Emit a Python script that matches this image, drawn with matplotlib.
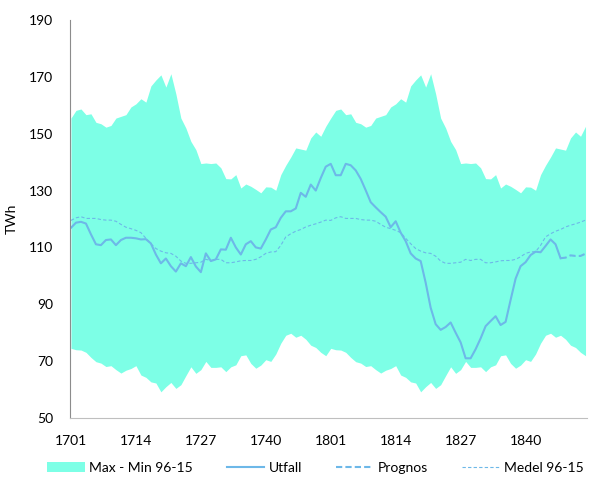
import matplotlib
matplotlib.use('Agg')
import matplotlib.pyplot as plt
import numpy as np

plt.rcParams['font.family'] = ['Lato', 'DejaVu Sans']

# weeks 1701-1752 and 1801-1852
weeks = ['%d%02d' % (y, w) for y in (17, 18) for w in range(1, 53)]
tick_labels = ['1701', '1714', '1727', '1740', '1801', '1814', '1827', '1840']

# Max / Min 96-15 (TWh), same weekly profile both seasons
band_max = [155.5, 158.2, 158.7, 156.7, 157.0, 154.0, 153.5, 152.3, 152.9, 155.5,
            156.1, 156.7, 159.4, 160.5, 162.3, 161.1, 166.8, 168.9, 170.7, 166.4,
            171.1, 164.0, 155.5, 152.0, 147.3, 144.4, 139.5, 139.7, 139.5, 139.7,
            138.0, 134.2, 134.1, 135.6, 130.9, 132.3, 131.5, 130.4, 129.2, 131.3,
            131.2, 130.1, 135.6, 138.9, 141.8, 145.0, 144.6, 144.2, 148.5, 150.6,
            149.1, 152.6,
            155.5, 158.2, 158.7, 156.7, 157.0, 154.0, 153.5, 152.3, 152.9, 155.5,
            156.1, 156.7, 159.4, 160.5, 162.3, 161.1, 166.8, 168.9, 170.7, 166.4,
            171.1, 164.0, 155.5, 152.0, 147.3, 144.4, 139.5, 139.7, 139.5, 139.7,
            138.0, 134.2, 134.1, 135.6, 130.9, 132.3, 131.5, 130.4, 129.2, 131.3,
            131.2, 130.1, 135.6, 138.9, 141.8, 145.0, 144.6, 144.2, 148.5, 150.6,
            149.1, 152.6]
band_min = [74.5, 74.0, 73.9, 73.1, 71.3, 69.8, 69.3, 68.1, 68.4, 67.0,
            65.8, 66.8, 67.4, 68.4, 65.1, 64.3, 62.7, 62.3, 59.2, 61.0,
            62.5, 60.4, 61.7, 64.9, 68.0, 65.7, 67.0, 69.9, 67.8, 67.8,
            68.0, 66.3, 68.0, 68.7, 71.9, 72.2, 69.2, 67.5, 68.6, 70.5,
            69.9, 72.5, 76.3, 79.1, 79.8, 78.4, 79.1, 77.7, 75.6, 74.8,
            73.1, 71.9,
            74.5, 74.0, 73.9, 73.1, 71.3, 69.8, 69.3, 68.1, 68.4, 67.0,
            65.8, 66.8, 67.4, 68.4, 65.1, 64.3, 62.7, 62.3, 59.2, 61.0,
            62.5, 60.4, 61.7, 64.9, 68.0, 65.7, 67.0, 69.9, 67.8, 67.8,
            68.0, 66.3, 68.0, 68.7, 71.9, 72.2, 69.2, 67.5, 68.6, 70.5,
            69.9, 72.5, 76.3, 79.1, 79.8, 78.4, 79.1, 77.7, 75.6, 74.8,
            73.1, 71.9]
medel = [119.5, 120.4, 120.8, 120.2, 120.2, 120.2, 119.8, 119.6, 119.6, 119.2,
         118.1, 117.1, 116.6, 116.0, 115.2, 113.2, 111.3, 109.6, 108.7, 108.1,
         107.9, 106.9, 105.2, 104.4, 104.4, 104.6, 104.8, 105.8, 105.4, 105.8,
         105.8, 104.6, 104.6, 104.9, 105.3, 105.4, 105.4, 105.8, 106.7, 107.9,
         108.4, 108.5, 110.7, 113.7, 114.8, 115.7, 116.3, 117.2, 117.8, 118.3,
         118.9, 119.6,
         119.5, 120.4, 120.8, 120.2, 120.2, 120.2, 119.8, 119.6, 119.6, 119.2,
         118.1, 117.1, 116.6, 116.0, 115.2, 113.2, 111.3, 109.6, 108.7, 108.1,
         107.9, 106.9, 105.2, 104.4, 104.4, 104.6, 104.8, 105.8, 105.4, 105.8,
         105.8, 104.6, 104.6, 104.9, 105.3, 105.4, 105.4, 105.8, 106.7, 107.9,
         108.4, 108.5, 110.7, 113.7, 114.8, 115.7, 116.3, 117.2, 117.8, 118.3,
         118.9, 119.6]
utfall = [116.9, 118.7, 119.0, 118.4, 114.6, 111.1, 110.8, 112.6, 112.8, 110.8,
          112.6, 113.4, 113.4, 113.2, 112.8, 112.9, 111.4, 107.5, 104.4, 106.1,
          103.4, 101.5, 104.4, 103.4, 106.6, 103.3, 101.3, 107.9, 105.2, 105.8,
          109.3, 109.2, 113.4, 110.0, 107.5, 111.1, 112.2, 110.0, 109.6, 112.8,
          116.3, 117.1, 120.4, 122.7, 122.7, 123.7, 129.2, 127.8, 132.1, 130.0,
          134.4, 138.4, 139.4, 135.4, 135.4, 139.4, 138.9, 137.1, 134.1, 130.1,
          125.9, 124.1, 122.4, 120.8, 117.1, 119.2, 115.2, 112.2, 107.9, 106.1,
          105.2, 97.6, 88.8, 83.0, 81.0, 82.0, 83.6, 80.0, 76.6, 71.0,
          71.0, 74.2, 78.0, 82.3, 84.1, 85.8, 82.7, 83.8, 91.5, 99.0,
          103.4, 104.8, 107.3, 108.5, 108.3, 110.5, 112.8, 111.1, 106.2]
prognos = [106.2, 106.4, 107.2, 107.0, 107.0, 107.8]

fill_col = '#7DFFE6'
line_col = '#6DB8E8'

x = np.arange(len(weeks))
x_utf = x[:len(utfall)]
x_prog = x[len(utfall) - 1:len(utfall) - 1 + len(prognos)]

fig = plt.figure(figsize=(5.95, 4.84), dpi=100)
ax = fig.add_axes([0.1176, 0.1364, 0.869, 0.8223])

ax.fill_between(x, band_min, band_max, color=fill_col, lw=0, label='Max - Min 96-15')
ax.plot(x_utf, utfall, color=line_col, lw=1.5, label='Utfall')
ax.plot(x_prog, prognos, color=line_col, lw=1.5, ls=(0, (3, 1.5)), label='Prognos')
ax.plot(x, medel, color=line_col, lw=0.8, ls=(0, (3, 2)), label='Medel 96-15')

ax.set_ylim(50, 190)
ax.set_yticks(range(50, 191, 20))
ax.set_xlim(-0.2, 103.3)
ax.set_xticks([weeks.index(t) for t in tick_labels])
ax.set_xticklabels(tick_labels)
ax.tick_params(length=0, labelsize=10, colors='black')
ax.tick_params(axis='y', pad=12)
ax.tick_params(axis='x', pad=12)
ax.set_ylabel('TWh', fontsize=10, labelpad=8)

for s in ('top', 'right'):
    ax.spines[s].set_visible(False)
ax.spines['left'].set_color('#8C8C8C')
ax.spines['bottom'].set_color('#BFBFBF')

fig.legend(loc='lower center', bbox_to_anchor=(0.53, -0.005), ncol=4, frameon=False,
           fontsize=10, handlelength=2.7, handletextpad=0.35, columnspacing=2.4)

fig.savefig('out.png', dpi=100)
